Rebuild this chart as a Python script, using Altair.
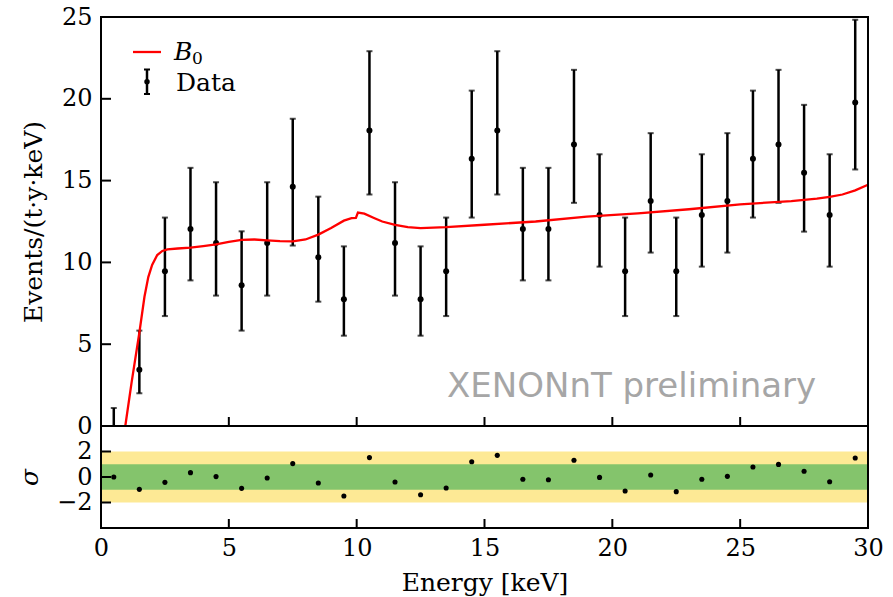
import altair as alt
import pandas as pd

# ---------------- data ----------------
energy = [0.5, 1.5, 2.5, 3.5, 4.5, 5.5, 6.5, 7.5, 8.5, 9.5,
          10.5, 11.5, 12.5, 13.5, 14.5, 15.5, 16.5, 17.5, 18.5, 19.5,
          20.5, 21.5, 22.5, 23.5, 24.5, 25.5, 26.5, 27.5, 28.5, 29.5]
rate = [0.0, 3.44, 9.46, 12.04, 11.18, 8.6, 11.18, 14.62, 10.32, 7.74,
        18.06, 11.18, 7.74, 9.46, 16.34, 18.06, 12.04, 12.04, 17.2, 12.9,
        9.46, 13.76, 9.46, 12.9, 13.76, 16.34, 17.2, 15.48, 12.9, 19.78]
err_lo = [0.0, 2.0, 6.72, 8.9, 7.97, 5.83, 7.97, 11.03, 7.6, 5.52,
          14.15, 7.97, 5.52, 6.72, 12.74, 14.15, 8.9, 8.9, 13.64, 9.74,
          6.72, 10.6, 6.72, 9.74, 10.6, 12.74, 13.64, 11.88, 9.74, 15.68]
err_hi = [1.1, 5.83, 12.74, 15.78, 14.9, 11.9, 14.9, 18.78, 14.02, 10.98,
          22.91, 14.9, 10.98, 12.74, 20.5, 22.91, 15.78, 15.78, 21.77, 16.61,
          12.74, 17.9, 12.74, 16.61, 17.9, 20.5, 21.77, 19.63, 16.61, 24.83]
resid = [0.0, -0.97, -0.42, 0.34, 0.03, -0.89, -0.08, 1.05, -0.47, -1.49,
         1.52, -0.39, -1.39, -0.86, 1.2, 1.7, -0.18, -0.21, 1.31, -0.03,
         -1.1, 0.16, -1.15, -0.18, 0.05, 0.78, 0.99, 0.45, -0.37, 1.49]

model_e = [0.95, 1.2, 1.5, 1.7, 1.85, 2.0, 2.2, 2.4, 2.6, 3.0, 3.5, 4.0, 4.5,
           5.0, 5.5, 6.0, 6.5, 7.0, 7.5, 8.0, 8.5, 9.0, 9.5, 9.8, 9.97,
           10.05, 10.3, 10.7, 11.0, 11.5, 12.0, 12.5, 13.0, 13.5, 15.0, 17.0,
           19.0, 21.0, 23.0, 25.0, 27.0, 28.0, 28.5, 29.0, 29.5, 30.0]
model_b = [0.0, 2.7, 5.7, 7.9, 9.1, 9.85, 10.45, 10.7, 10.8, 10.85, 10.9, 11.0, 11.1,
           11.25, 11.38, 11.4, 11.35, 11.3, 11.28, 11.4, 11.7, 12.1, 12.55, 12.7, 12.72,
           13.05, 12.98, 12.7, 12.5, 12.3, 12.15, 12.1, 12.12, 12.15, 12.3, 12.5,
           12.8, 13.0, 13.25, 13.55, 13.75, 13.9, 14.0, 14.15, 14.4, 14.75]

x_ticks = [5, 10, 15, 20, 25]
y_ticks_top = [5, 10, 15, 20]
y_ticks_res = [-2, 0, 2]
band_lo = [-2, -1]
band_hi = [2, 1]

# ---------------- layout constants ----------------
W, H1, H2 = 767, 409, 102
SERIF = "DejaVu Serif"
FS = 24
TFS = 25

df = pd.DataFrame({"E": energy, "rate": rate, "lo": err_lo, "hi": err_hi, "resid": resid})
mdf = pd.DataFrame({"E": model_e, "B0": model_b})
one = pd.DataFrame({"k": [0]})

xs = alt.Scale(domain=[0, 30], nice=False, zero=False)
ys_top = alt.Scale(domain=[0, 25], nice=False, zero=False)
ys_res = alt.Scale(domain=[-4, 4], nice=False, zero=False)

axis_common = dict(ticks=False, domain=False, grid=False, labelFont=SERIF,
                   labelFontSize=FS, labelColor="black", titleFont=SERIF,
                   titleFontSize=TFS, titleColor="black", titleFontWeight="normal",
                   labelFlush=False, labelOverlap=False)


def frame(h):
    return alt.Chart(one).mark_rect(fillOpacity=0, stroke="black", strokeWidth=2).encode(
        x=alt.value(0), x2=alt.value(W), y=alt.value(0), y2=alt.value(h))


# ---------------- top panel ----------------
bars = alt.Chart(df).mark_rule(color="black", strokeWidth=2.5).encode(
    x=alt.X("E:Q", scale=xs, axis=None),
    y=alt.Y("lo:Q", scale=ys_top, axis=alt.Axis(
        values=[0, 5, 10, 15, 20, 25], title="Events/(t·y·keV)", labelPadding=9,
        titleX=-68, titleY=H1 / 2, titleAngle=270, titleBaseline="middle",
        titleAlign="center", **axis_common)),
    y2="hi:Q",
)
cap_lo = alt.Chart(df).mark_tick(orient="horizontal", size=6, thickness=2, color="black").encode(
    x=alt.X("E:Q", scale=xs), y=alt.Y("lo:Q", scale=ys_top))
cap_hi = alt.Chart(df).mark_tick(orient="horizontal", size=6, thickness=2, color="black").encode(
    x=alt.X("E:Q", scale=xs), y=alt.Y("hi:Q", scale=ys_top))
pts = alt.Chart(df).transform_filter("datum.rate > 0").mark_circle(
    size=36, color="black", opacity=1).encode(
    x=alt.X("E:Q", scale=xs), y=alt.Y("rate:Q", scale=ys_top))
line = alt.Chart(mdf).mark_line(color="#ff0000", strokeWidth=2.3).encode(
    x=alt.X("E:Q", scale=xs), y=alt.Y("B0:Q", scale=ys_top))

xt_top = alt.Chart(pd.DataFrame({"E": x_ticks})).mark_rule(color="black", strokeWidth=2).encode(
    x=alt.X("E:Q", scale=xs), y=alt.value(H1), y2=alt.value(H1 - 9))
yt_top = alt.Chart(pd.DataFrame({"v": y_ticks_top})).mark_rule(color="black", strokeWidth=2).encode(
    y=alt.Y("v:Q", scale=ys_top), x=alt.value(0), x2=alt.value(10))

watermark = alt.Chart(one).mark_text(
    text="XENONnT preliminary", font="DejaVu Sans", fontSize=34, color="#a6a6a6",
    align="left", baseline="alphabetic").encode(x=alt.value(346), y=alt.value(380))

# legend (drawn by hand)
leg_line = alt.Chart(one).mark_rule(color="#ff0000", strokeWidth=2.3).encode(
    x=alt.value(32), x2=alt.value(60), y=alt.value(35))
leg_B = alt.Chart(one).mark_text(text="B", font=SERIF, fontStyle="italic", fontSize=FS + 1,
                                 align="left", baseline="alphabetic", color="black").encode(
    x=alt.value(73), y=alt.value(43))
leg_0 = alt.Chart(one).mark_text(text="0", font=SERIF, fontSize=17,
                                 align="left", baseline="alphabetic", color="black").encode(
    x=alt.value(91), y=alt.value(46.5))
leg_data = alt.Chart(one).mark_text(text="Data", font=SERIF, fontSize=FS + 1,
                                    align="left", baseline="alphabetic", color="black").encode(
    x=alt.value(75), y=alt.value(73.5))
leg_bar = alt.Chart(one).mark_rule(color="black", strokeWidth=2.5).encode(
    x=alt.value(46), y=alt.value(52), y2=alt.value(77.5))
leg_cap1 = alt.Chart(one).mark_rule(color="black", strokeWidth=2).encode(
    x=alt.value(43), x2=alt.value(49), y=alt.value(52.5))
leg_cap2 = alt.Chart(one).mark_rule(color="black", strokeWidth=2).encode(
    x=alt.value(43), x2=alt.value(49), y=alt.value(77))
leg_dot = alt.Chart(one).mark_circle(size=30, color="black", opacity=1).encode(
    x=alt.value(46), y=alt.value(64.8))

top = alt.layer(
    bars, cap_lo, cap_hi, pts, line, xt_top, yt_top, watermark,
    leg_line, leg_B, leg_0, leg_data, leg_bar, leg_cap1, leg_cap2, leg_dot, frame(H1),
).properties(width=W, height=H1)

# ---------------- residual panel ----------------
bands = pd.DataFrame({"lo": band_lo, "hi": band_hi})
yellow = alt.Chart(bands.iloc[[0]]).mark_rect(color="#fde995", opacity=1).encode(
    x=alt.value(0), x2=alt.value(W),
    y=alt.Y("lo:Q", scale=ys_res, axis=alt.Axis(
        values=y_ticks_res, title="σ", labelPadding=9, titleFontStyle="italic",
        titleX=-72, titleY=H2 / 2, titleAngle=270, titleBaseline="middle",
        titleAlign="center", **axis_common)),
    y2="hi:Q")
green = alt.Chart(bands.iloc[[1]]).mark_rect(color="#84c46c", opacity=1).encode(
    x=alt.value(0), x2=alt.value(W),
    y=alt.Y("lo:Q", scale=ys_res), y2="hi:Q")
rpts = alt.Chart(df).mark_circle(size=26, color="black", opacity=1).encode(
    x=alt.X("E:Q", scale=xs, axis=alt.Axis(
        values=[0, 5, 10, 15, 20, 25, 30], title="Energy [keV]", labelPadding=8,
        titleY=62, titleBaseline="alphabetic", **axis_common)),
    y=alt.Y("resid:Q", scale=ys_res))
xt_res = alt.Chart(pd.DataFrame({"E": x_ticks})).mark_rule(color="black", strokeWidth=2).encode(
    x=alt.X("E:Q", scale=xs), y=alt.value(H2), y2=alt.value(H2 - 9))
yt_res = alt.Chart(pd.DataFrame({"v": y_ticks_res})).mark_rule(color="black", strokeWidth=2).encode(
    y=alt.Y("v:Q", scale=ys_res), x=alt.value(0), x2=alt.value(10))

bottom = alt.layer(yellow, green, rpts, xt_res, yt_res, frame(H2)).properties(width=W, height=H2)

chart = alt.vconcat(top, bottom, spacing=0, bounds="flush").properties(
    padding={"left": 17, "top": 5, "right": 5, "bottom": 5},
    background="white",
).configure_view(stroke=None)

chart.save("out.html", embed_options={"renderer": "svg", "actions": False})
